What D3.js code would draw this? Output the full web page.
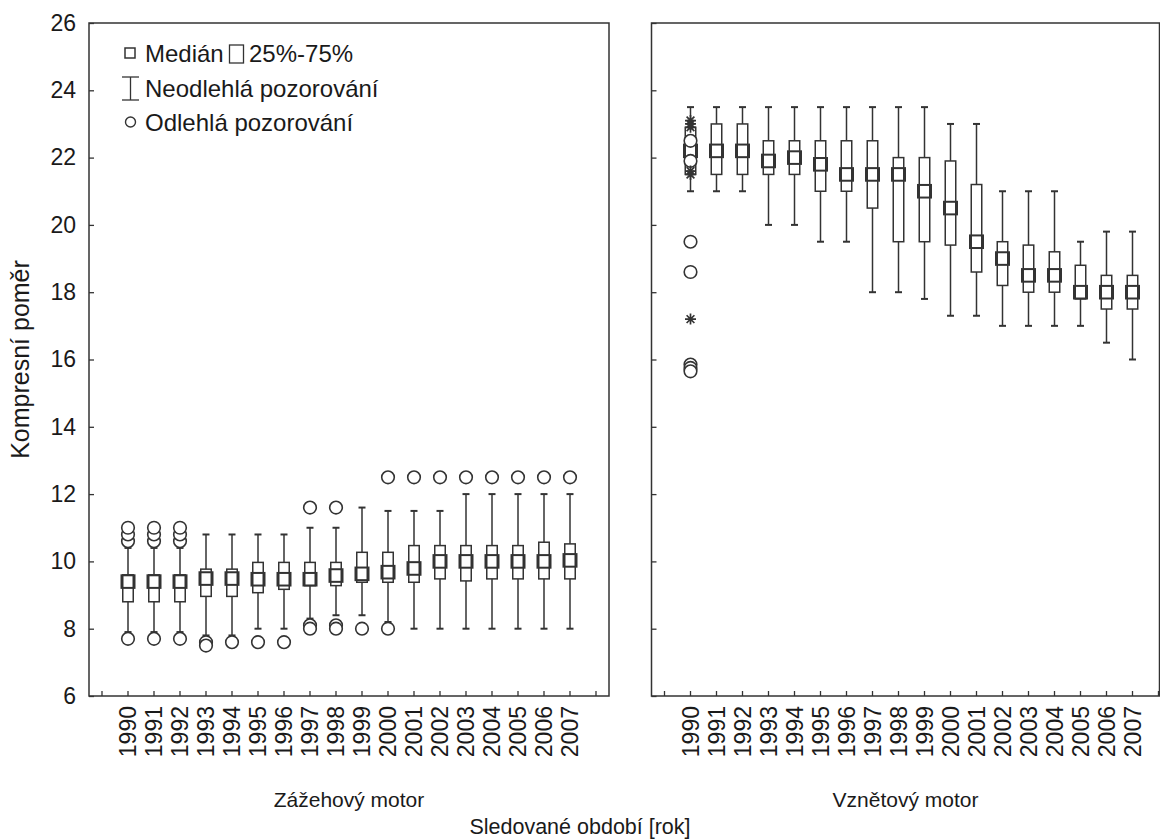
<!DOCTYPE html>
<html>
<head>
<meta charset="utf-8">
<script src="https://cdn.jsdelivr.net/npm/d3@7"></script>
<style>
  html, body { margin: 0; padding: 0; background: #fff; }
  svg { display: block; font-family: "Liberation Sans", Arial, Helvetica, sans-serif; }
</style>
</head>
<body>
<svg id="chart" width="1160" height="839"></svg>
<script>
// Years observed
const years = [1990, 1991, 1992, 1993, 1994, 1995, 1996, 1997, 1998,
               1999, 2000, 2001, 2002, 2003, 2004, 2005, 2006, 2007];

// Spark-ignition engines (Zážehový motor)
const petrolLow    = [7.9, 7.9, 7.9, 7.8, 7.8, 8.0, 8.0, 8.3, 8.4, 8.4, 8.2, 8.0, 8.0, 8.0, 8.0, 8.0, 8.0, 8.0];
const petrolQ1     = [8.8, 8.8, 8.8, 8.96, 8.96, 9.07, 9.17, 9.28, 9.28, 9.38, 9.38, 9.38, 9.48, 9.42, 9.48, 9.48, 9.48, 9.48];
const petrolMedian = [9.4, 9.4, 9.4, 9.49, 9.49, 9.47, 9.47, 9.47, 9.58, 9.63, 9.68, 9.79, 10.0, 10.0, 10.0, 10.0, 10.0, 10.03];
const petrolQ3     = [9.6, 9.6, 9.6, 9.77, 9.77, 9.97, 9.97, 9.97, 9.97, 10.27, 10.27, 10.47, 10.47, 10.47, 10.47, 10.47, 10.57, 10.52];
const petrolHigh   = [10.4, 10.4, 10.4, 10.8, 10.8, 10.8, 10.8, 11.0, 11.0, 11.6, 11.5, 11.5, 11.5, 12.0, 12.0, 12.0, 12.0, 12.0];
const petrolOutliers = [
  [7.7, 10.6, 10.8, 11.0], [7.7, 10.6, 10.8, 11.0], [7.7, 10.6, 10.8, 11.0],
  [7.6, 7.5], [7.6], [7.6], [7.6],
  [8.1, 8.0, 11.6], [8.1, 8.0, 11.6], [8.0], [8.0, 12.5],
  [12.5], [12.5], [12.5], [12.5], [12.5], [12.5], [12.5]
];
const petrolExtremes = years.map(() => []);

// Compression-ignition engines (Vznětový motor)
const dieselLow    = [21.0, 21.0, 21.0, 20.0, 20.0, 19.5, 19.5, 18.0, 18.0, 17.8, 17.3, 17.3, 17.0, 17.0, 17.0, 17.0, 16.5, 16.0];
const dieselQ1     = [21.5, 21.5, 21.5, 21.5, 21.5, 21.0, 21.0, 20.5, 19.5, 19.5, 19.4, 18.6, 18.2, 18.0, 18.0, 17.8, 17.5, 17.5];
const dieselMedian = [22.2, 22.2, 22.2, 21.9, 22.0, 21.8, 21.5, 21.5, 21.5, 21.0, 20.5, 19.5, 19.0, 18.5, 18.5, 18.0, 18.0, 18.0];
const dieselQ3     = [22.9, 23.0, 23.0, 22.5, 22.5, 22.5, 22.5, 22.5, 22.0, 22.0, 21.9, 21.2, 19.5, 19.4, 19.2, 18.8, 18.5, 18.5];
const dieselHigh   = [23.5, 23.5, 23.5, 23.5, 23.5, 23.5, 23.5, 23.5, 23.5, 23.5, 23.0, 23.0, 21.0, 21.0, 21.0, 19.5, 19.8, 19.8];
const dieselOutliers = [[22.5, 21.9, 19.5, 18.6, 15.85, 15.75, 15.65]].concat(years.slice(1).map(() => []));
const dieselExtremes = [[23.1, 23.0, 22.9, 21.6, 21.5, 17.2]].concat(years.slice(1).map(() => []));

// Axis labels and ticks
const yTicks = [6, 8, 10, 12, 14, 16, 18, 20, 22, 24, 26];
const panelTitles = ["Zážehový motor", "Vznětový motor"];
const yTitle = "Kompresní poměr";
const xTitle = "Sledované období [rok]";
const legendLabels = ["Medián", "25%-75%", "Neodlehlá pozorování", "Odlehlá pozorování"];

const ink = "#333";
const textInk = "#1a1a1a";
const tickFont = "23px";

const svg = d3.select("#chart");
const y = d3.scaleLinear().domain([6, 26]).range([696, 23]);

// Empty slots on both sides of the years
const slots = ["pre"].concat(years.map(String), ["post"]);

function buildStats(low, q1, med, q3, high, outl, extr) {
  return years.map((yr, i) => ({
    year: String(yr), low: low[i], q1: q1[i], med: med[i], q3: q3[i], high: high[i],
    outliers: outl[i], extremes: extr[i]
  }));
}

const panels = [
  { title: panelTitles[0], x0: 89, x1: 609, frameRight: 609, labels: true,
    stats: buildStats(petrolLow, petrolQ1, petrolMedian, petrolQ3, petrolHigh, petrolOutliers, petrolExtremes) },
  { title: panelTitles[1], x0: 651.5, x1: 1171.5, frameRight: 1159.5, labels: false,
    stats: buildStats(dieselLow, dieselQ1, dieselMedian, dieselQ3, dieselHigh, dieselOutliers, dieselExtremes) }
];

const boxW = 10.5, medW = 13, medH = 12.6, capW = 7, outR = 6.3, starR = 5.5;

panels.forEach(p => {
  const x = d3.scaleBand().domain(slots).range([p.x0, p.x1]).paddingInner(0).paddingOuter(0);
  const cx = d => x(d) + x.bandwidth() / 2;
  const g = svg.append("g");

  // frame
  g.append("rect")
    .attr("x", p.x0).attr("y", y(26))
    .attr("width", p.frameRight - p.x0).attr("height", y(6) - y(26))
    .attr("fill", "none").attr("stroke", ink).attr("stroke-width", 1.5);

  // y axis (ticks inside)
  const yAxis = d3.axisLeft(y).tickValues(yTicks).tickSize(-5).tickPadding(13)
    .tickFormat(p.labels ? d3.format("d") : () => "");
  const ya = g.append("g").attr("transform", `translate(${p.x0},0)`).call(yAxis);
  ya.select(".domain").remove();
  ya.selectAll(".tick line").attr("stroke", ink).attr("stroke-width", 1.3);
  ya.selectAll(".tick text").attr("fill", textInk).style("font-size", tickFont);

  // x axis (ticks inside, rotated year labels)
  const xAxis = d3.axisBottom(x).tickSize(-5)
    .tickFormat(d => (d === "pre" || d === "post") ? "" : d);
  const xa = g.append("g").attr("transform", `translate(0,${y(6)})`).call(xAxis);
  xa.select(".domain").remove();
  xa.selectAll(".tick").filter(d => x(d) + x.bandwidth() / 2 > p.frameRight).remove();
  xa.selectAll(".tick line").attr("stroke", ink).attr("stroke-width", 1.3);
  xa.selectAll(".tick text")
    .attr("transform", "rotate(-90)")
    .attr("text-anchor", "end")
    .attr("x", -10).attr("y", 0).attr("dy", "0.36em")
    .attr("fill", textInk).style("font-size", tickFont);

  // panel title
  svg.append("text")
    .attr("x", (p.x0 + p.frameRight) / 2).attr("y", 807)
    .attr("text-anchor", "middle").attr("fill", textInk).style("font-size", "21px")
    .text(p.title);

  const boxes = g.selectAll("g.box").data(p.stats).join("g").attr("class", "box");

  // whisker
  boxes.append("line")
    .attr("x1", d => cx(d.year)).attr("x2", d => cx(d.year))
    .attr("y1", d => y(d.high)).attr("y2", d => y(d.low))
    .attr("stroke", ink).attr("stroke-width", 1.5);
  boxes.append("line")
    .attr("x1", d => cx(d.year) - capW / 2).attr("x2", d => cx(d.year) + capW / 2)
    .attr("y1", d => y(d.high)).attr("y2", d => y(d.high))
    .attr("stroke", ink).attr("stroke-width", 2);
  boxes.append("line")
    .attr("x1", d => cx(d.year) - capW / 2).attr("x2", d => cx(d.year) + capW / 2)
    .attr("y1", d => y(d.low)).attr("y2", d => y(d.low))
    .attr("stroke", ink).attr("stroke-width", 2);

  // 25%-75% box
  boxes.append("rect")
    .attr("x", d => cx(d.year) - boxW / 2).attr("width", boxW)
    .attr("y", d => y(d.q3)).attr("height", d => y(d.q1) - y(d.q3))
    .attr("fill", "#fff").attr("stroke", ink).attr("stroke-width", 1.5);

  // median marker
  boxes.append("rect")
    .attr("x", d => cx(d.year) - medW / 2).attr("width", medW)
    .attr("y", d => y(d.med) - medH / 2).attr("height", medH)
    .attr("fill", "none").attr("stroke", ink).attr("stroke-width", 2);

  // outliers
  boxes.selectAll("circle").data(d => d.outliers.map(v => ({ year: d.year, v }))).join("circle")
    .attr("cx", d => cx(d.year)).attr("cy", d => y(d.v)).attr("r", outR)
    .attr("fill", "#fff").attr("stroke", ink).attr("stroke-width", 1.6);

  // extremes (asterisks)
  boxes.selectAll("path.ext").data(d => d.extremes.map(v => ({ year: d.year, v }))).join("path")
    .attr("class", "ext")
    .attr("transform", d => `translate(${cx(d.year)},${y(d.v)})`)
    .attr("d", () => {
      const r = starR, k = r * Math.SQRT1_2;
      return `M${-r},0H${r}M0,${-r}V${r}M${-k},${-k}L${k},${k}M${-k},${k}L${k},${-k}`;
    })
    .attr("fill", "none").attr("stroke", ink).attr("stroke-width", 1.7);
});

// axis titles
svg.append("text")
  .attr("transform", `translate(29,${(y(6) + y(26)) / 2}) rotate(-90)`)
  .attr("text-anchor", "middle").attr("fill", textInk).style("font-size", "25px")
  .text(yTitle);
svg.append("text")
  .attr("x", 580).attr("y", 834)
  .attr("text-anchor", "middle").attr("fill", textInk).style("font-size", "21.5px")
  .text(xTitle);

// legend
const lg = svg.append("g");
const legendFont = "24px";
lg.append("rect").attr("x", 125).attr("y", 48).attr("width", 10).attr("height", 10)
  .attr("fill", "none").attr("stroke", ink).attr("stroke-width", 1.5);
lg.append("text").attr("x", 145).attr("y", 62).style("font-size", legendFont).attr("fill", textInk).text(legendLabels[0]);
lg.append("rect").attr("x", 229.5).attr("y", 45).attr("width", 14).attr("height", 18)
  .attr("fill", "none").attr("stroke", ink).attr("stroke-width", 1.3);
lg.append("text").attr("x", 249).attr("y", 62).style("font-size", legendFont).attr("fill", textInk).text(legendLabels[1]);
lg.append("line").attr("x1", 130.5).attr("x2", 130.5).attr("y1", 77).attr("y2", 100).attr("stroke", ink).attr("stroke-width", 1.3);
lg.append("line").attr("x1", 122).attr("x2", 139).attr("y1", 77).attr("y2", 77).attr("stroke", ink).attr("stroke-width", 1.3);
lg.append("line").attr("x1", 122).attr("x2", 139).attr("y1", 100).attr("y2", 100).attr("stroke", ink).attr("stroke-width", 1.3);
lg.append("text").attr("x", 145).attr("y", 97).style("font-size", legendFont).attr("fill", textInk).text(legendLabels[2]);
lg.append("circle").attr("cx", 130.5).attr("cy", 122).attr("r", 5)
  .attr("fill", "none").attr("stroke", ink).attr("stroke-width", 1.4);
lg.append("text").attr("x", 145).attr("y", 131).style("font-size", legendFont).attr("fill", textInk).text(legendLabels[3]);
</script>
</body>
</html>
